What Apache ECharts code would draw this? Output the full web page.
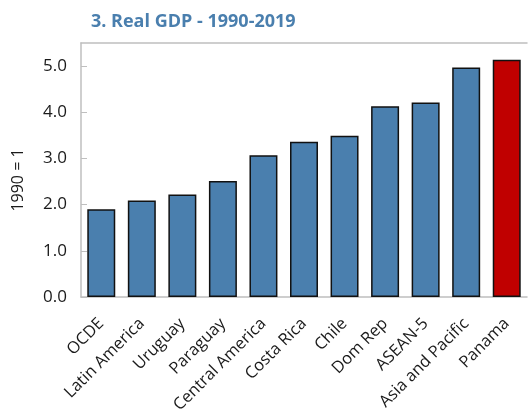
<!DOCTYPE html>
<html><head><meta charset="utf-8">
<script src="https://cdn.jsdelivr.net/npm/echarts@6/dist/echarts.min.js"></script>
<style>html,body{margin:0;padding:0;background:#fff}#c{width:528px;height:419px}</style>
</head><body><div id="c"></div>
<script>
const categories = ["OCDE","Latin America","Uruguay","Paraguay","Central America","Costa Rica","Chile","Dom Rep","ASEAN-5","Asia and Pacific","Panama"];
const values = [1.90, 2.09, 2.22, 2.51, 3.07, 3.36, 3.49, 4.13, 4.21, 4.97, 5.14];
const highlight = "Panama";
const titleText = "3. Real GDP - 1990-2019";
const yName = "1990 = 1";

const chart = echarts.init(document.getElementById('c'));
const font = "'Open Sans', 'Noto Sans', sans-serif";
chart.setOption({
  animation: false,
  title: { text: titleText, left: 86, top: 8, textStyle: { color: '#4a7fae', fontSize: 18, fontWeight: 'bold', fontFamily: font } },
  grid: { left: 81, top: 43, right: 1, bottom: 122 },
  xAxis: [{
    type: 'category', data: categories,
    axisLine: { lineStyle: { color: '#bfbfbf', width: 1.5 } },
    axisTick: { inside: true, length: 5, lineStyle: { color: '#bfbfbf' } },
    axisLabel: { rotate: 45, color: '#1a1a1a', fontSize: 16.5, fontFamily: font, margin: 24, interval: 0 }
  }, {
    type: 'category', position: 'top', data: categories,
    axisLine: { lineStyle: { color: '#bfbfbf', width: 1.5 } },
    axisTick: { show: false }, axisLabel: { show: false }
  }],
  yAxis: {
    type: 'value', min: 0, max: 5.5, interval: 1,
    name: yName, nameLocation: 'middle', nameGap: 55, nameRotate: 90,
    nameTextStyle: { color: '#1a1a1a', fontSize: 16, fontFamily: font, padding: [0, 20, 0, 0] },
    axisLine: { show: true, lineStyle: { color: '#bfbfbf', width: 1.5 } },
    axisTick: { show: true, inside: true, length: 6, lineStyle: { color: '#bfbfbf' } },
    splitLine: { show: false },
    axisLabel: { color: '#1a1a1a', fontSize: 17, fontFamily: font, margin: 14, showMaxLabel: false,
      formatter: v => (v > 5 ? '' : v.toFixed(1)) }
  },
  series: [{
    type: 'bar', barWidth: '69%',
    data: values.map((v, i) => ({
      value: v,
      itemStyle: { color: categories[i] === highlight ? '#c00000' : '#4a7fae', borderColor: '#111', borderWidth: 1.5 }
    }))
  }]
});
</script></body></html>
